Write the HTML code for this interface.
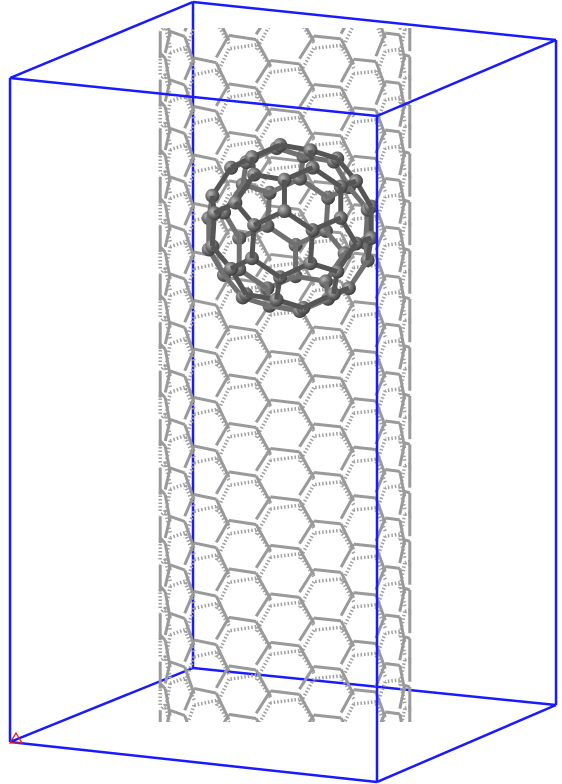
<!DOCTYPE html>
<html><head><meta charset="utf-8">
<style>
html,body{margin:0;padding:0;background:#fff;width:562px;height:784px;overflow:hidden;}
svg{display:block;position:absolute;left:0;top:0;}
</style></head>
<body>
<svg id="scene" width="562" height="784" viewBox="0 0 562 784" xmlns="http://www.w3.org/2000/svg">
  <defs>
    <radialGradient id="atomGrad" cx="35%" cy="35%" r="70%">
      <stop offset="0%" stop-color="#b8b8b8"/>
      <stop offset="55%" stop-color="#6a6a6a"/>
      <stop offset="100%" stop-color="#3a3a3a"/>
    </radialGradient>
    <clipPath id="tubeClip"><rect x="140" y="28" width="300" height="694"/></clipPath>
  </defs>
  <g id="back-box" stroke="#1a1aff" stroke-width="2.5" fill="none">
    <line x1="193" y1="2" x2="556" y2="40"/>
    <line x1="193" y1="2" x2="193" y2="668"/>
    <line x1="193" y1="668" x2="556" y2="705"/>
    <line x1="193" y1="668" x2="10" y2="742"/>
    <line x1="193" y1="2" x2="10" y2="78"/>
  </g>
  <g id="tube" clip-path="url(#tubeClip)"></g>
  <g id="fullerene"></g>
  <g id="front-box" stroke="#1a1aff" stroke-width="2.5" fill="none">
    <line x1="10" y1="78" x2="377" y2="116"/>
    <line x1="10" y1="78" x2="10" y2="742"/>
    <line x1="10" y1="742" x2="377" y2="782"/>
    <line x1="377" y1="116" x2="377" y2="782"/>
    <line x1="377" y1="116" x2="556" y2="40"/>
    <line x1="556" y1="40" x2="556" y2="705"/>
    <line x1="556" y1="705" x2="377" y2="782"/>
  </g>
  <polygon points="10,743 16,733 22,743" fill="none" stroke="#e02020" stroke-width="1.3"/>
</svg>
<script>
var tubeCenter = [285];
var tubeRadius = [125];
var hexEdge = [28];
var tubeTop = [30];
var tubeBottom = [720];
var NS = "http://www.w3.org/2000/svg";
var tube = document.getElementById('tube');
(function(){
  var cx = tubeCenter[0], R = tubeRadius[0], a = hexEdge[0];
  var ncol = 18, colW = 2*Math.PI*R/ncol, h = Math.sqrt(3)*a;
  var nrow = Math.ceil((tubeBottom[0]-tubeTop[0])/h)+4;
  var backG = document.createElementNS(NS,'g');
  var frontG = document.createElementNS(NS,'g');
  tube.appendChild(backG); tube.appendChild(frontG);
  var hw = colW*2/3;
  var offs = [[-hw,0],[-hw/2,-h/2],[hw/2,-h/2],[hw,0],[hw/2,h/2],[-hw/2,h/2]];
  var tilt = 0.12;
  function proj(s,z){ var t = s/R; return [cx + R*Math.sin(t), z + s*tilt + 8*Math.cos(t), Math.cos(t)]; }
  for (var r=-4;r<nrow;r++){
    for (var c=0;c<ncol;c++){
      var s0 = c*colW, z0 = tubeTop[0] + r*h + (c%2 ? h/2 : 0) - (c*colW)*tilt;
      for (var k=0;k<3;k++){
        var p = offs[k], q = offs[k+1];
        var A = proj(s0+p[0], z0+p[1]), B = proj(s0+q[0], z0+q[1]);
        if (Math.abs(A[0]-B[0])>120) continue;
        if (Math.max(A[1],B[1]) < 20 || Math.min(A[1],B[1]) > 730) continue;
        if (Math.min(A[1],B[1]) < 0 || Math.max(A[1],B[1]) > 760) continue;
        var depth = (A[2]+B[2])/2;
        var ln = document.createElementNS(NS,'line');
        
        
        ln.setAttribute('x1',A[0]);ln.setAttribute('y1',A[1]);
        ln.setAttribute('x2',B[0]);ln.setAttribute('y2',B[1]);
        if (depth >= 0){
          ln.setAttribute('stroke','#9a9a9a'); ln.setAttribute('stroke-width','3');
          frontG.appendChild(ln);
        } else {
          ln.setAttribute('stroke','#a0a0a0'); ln.setAttribute('stroke-width','3.5');
          ln.setAttribute('stroke-dasharray','1.5,2');
          backG.appendChild(ln);
        }
      }
    }
  }
})();
var fullereneCenter = [290, 228];
var fullereneScale = [17];
(function(){
  var g = document.getElementById('fullerene');
  var phi = (1+Math.sqrt(5))/2;
  var base = [[0,1,3*phi],[1,2+phi,2*phi],[phi,2,2*phi+1]];
  var pts = [], seen = {};
  base.forEach(function(b){
    for (var cyc=0;cyc<3;cyc++){
      var v = [b[cyc%3], b[(cyc+1)%3], b[(cyc+2)%3]];
      for (var sx=-1;sx<=1;sx+=2) for (var sy=-1;sy<=1;sy+=2) for (var sz=-1;sz<=1;sz+=2){
        var p = [v[0]*sx, v[1]*sy, v[2]*sz];
        var key = p.map(function(x){return x.toFixed(3);}).join(',');
        if(!seen[key]){seen[key]=1;pts.push(p);}
      }
    }
  });
  var ax=0.5, ay=0.6, az=0.3;
  function rot(p){
    var x=p[0],y=p[1],z=p[2],t;
    t=y*Math.cos(ax)-z*Math.sin(ax); z=y*Math.sin(ax)+z*Math.cos(ax); y=t;
    t=x*Math.cos(ay)+z*Math.sin(ay); z=-x*Math.sin(ay)+z*Math.cos(ay); x=t;
    t=x*Math.cos(az)-y*Math.sin(az); y=x*Math.sin(az)+y*Math.cos(az); x=t;
    return [x,y,z];
  }
  var S = fullereneScale[0];
  var P = pts.map(function(p){ var r=rot(p); return [fullereneCenter[0]+r[0]*S, fullereneCenter[1]+r[1]*S, r[2]]; });
  var items = [];
  for (var i=0;i<pts.length;i++) for (var j=i+1;j<pts.length;j++){
    var d = Math.hypot(pts[i][0]-pts[j][0],pts[i][1]-pts[j][1],pts[i][2]-pts[j][2]);
    if (Math.abs(d-2)<0.05) items.push({t:'b',i:i,j:j,z:(P[i][2]+P[j][2])/2});
  }
  P.forEach(function(p,i){ items.push({t:'a',i:i,z:p[2]+0.01}); });
  items.sort(function(a,b){return a.z-b.z;});
  items.forEach(function(it){
    if (it.t==='b'){
      var ln=document.createElementNS(NS,'line');
      
      
      ln.setAttribute('x1',P[it.i][0]);ln.setAttribute('y1',P[it.i][1]);
      ln.setAttribute('x2',P[it.j][0]);ln.setAttribute('y2',P[it.j][1]);
      ln.setAttribute('stroke', it.z<0 ? '#707070' : '#555');
      ln.setAttribute('stroke-width','5');
      g.appendChild(ln);
    } else {
      var c=document.createElementNS(NS,'circle');
      
      
      c.setAttribute('cx',P[it.i][0]);c.setAttribute('cy',P[it.i][1]);
      c.setAttribute('r',7);
      c.setAttribute('fill','url(#atomGrad)');
      g.appendChild(c);
    }
  });
})();
</script>
</body></html>
